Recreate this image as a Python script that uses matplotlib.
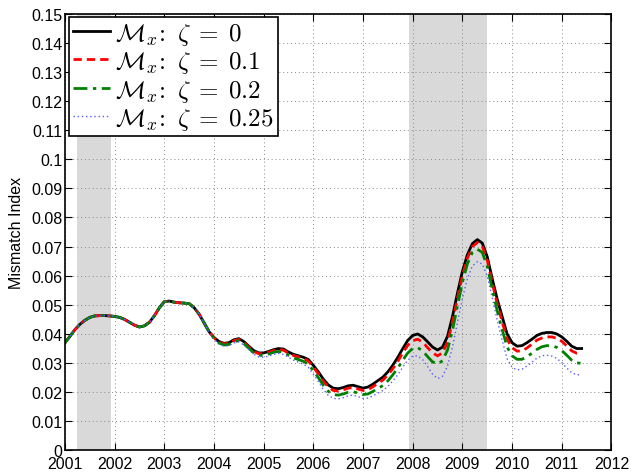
import numpy as np
import matplotlib
matplotlib.use("Agg")
import matplotlib.pyplot as plt
from matplotlib.ticker import FuncFormatter

plt.rcParams['font.family'] = ['Liberation Sans', 'DejaVu Sans']
plt.rcParams['mathtext.fontset'] = 'cm'

# sample dates, every 0.1 year
years = np.round(np.arange(2001.0, 2011.45, 0.1), 2)

# 2001.0 - 2003.9: all four curves coincide
early = [0.0370, 0.0392, 0.0415, 0.0433, 0.0447, 0.0457, 0.0462, 0.0463, 0.0463, 0.0462,
         0.0460, 0.0457, 0.0450, 0.0440, 0.0430, 0.0424, 0.0428, 0.0440, 0.0463, 0.0490,
         0.0511, 0.0513, 0.0509, 0.0507, 0.0506, 0.0504, 0.0490, 0.0468, 0.0438, 0.0408]

zeta_0 = early + [
    0.0388, 0.0374, 0.0368, 0.0370, 0.0380, 0.0384, 0.0374, 0.0358, 0.0343, 0.0335,
    0.0335, 0.0340, 0.0346, 0.0350, 0.0348, 0.0338, 0.0330, 0.0325, 0.0320, 0.0312,
    0.0292, 0.0270, 0.0245, 0.0225, 0.0214, 0.0212, 0.0216, 0.0222, 0.0224, 0.0219,
    0.0214, 0.0218, 0.0228, 0.0240, 0.0252, 0.0270, 0.0293, 0.0320, 0.0350, 0.0378,
    0.0395, 0.0400, 0.0390, 0.0373, 0.0355, 0.0345, 0.0355, 0.0392, 0.0460, 0.0540,
    0.0615, 0.0672, 0.0710, 0.0724, 0.0712, 0.0665, 0.0590, 0.0520, 0.0460, 0.0400,
    0.0370, 0.0358, 0.0360, 0.0370, 0.0382, 0.0395, 0.0402, 0.0405, 0.0405, 0.0400,
    0.0390, 0.0375, 0.0358, 0.0350, 0.0350]

zeta_01 = early + [
    0.0387, 0.0372, 0.0366, 0.0368, 0.0377, 0.0381, 0.0371, 0.0355, 0.0340, 0.0332,
    0.0332, 0.0337, 0.0343, 0.0347, 0.0344, 0.0334, 0.0326, 0.0321, 0.0316, 0.0307,
    0.0286, 0.0263, 0.0238, 0.0218, 0.0206, 0.0204, 0.0208, 0.0214, 0.0216, 0.0211,
    0.0206, 0.0209, 0.0219, 0.0231, 0.0242, 0.0259, 0.0281, 0.0306, 0.0335, 0.0361,
    0.0377, 0.0382, 0.0372, 0.0353, 0.0335, 0.0325, 0.0335, 0.0372, 0.0440, 0.0522,
    0.0600, 0.0660, 0.0700, 0.0714, 0.0702, 0.0653, 0.0576, 0.0504, 0.0442, 0.0382,
    0.0353, 0.0341, 0.0342, 0.0352, 0.0365, 0.0379, 0.0386, 0.0390, 0.0390, 0.0385,
    0.0375, 0.0359, 0.0342, 0.0334, 0.0333]

zeta_02 = early + [
    0.0385, 0.0369, 0.0362, 0.0364, 0.0373, 0.0377, 0.0367, 0.0351, 0.0335, 0.0327,
    0.0326, 0.0331, 0.0337, 0.0340, 0.0337, 0.0327, 0.0318, 0.0312, 0.0306, 0.0296,
    0.0274, 0.0250, 0.0224, 0.0203, 0.0192, 0.0190, 0.0194, 0.0200, 0.0202, 0.0197,
    0.0192, 0.0194, 0.0203, 0.0213, 0.0223, 0.0239, 0.0260, 0.0283, 0.0310, 0.0335,
    0.0350, 0.0353, 0.0342, 0.0322, 0.0304, 0.0297, 0.0308, 0.0345, 0.0413, 0.0496,
    0.0577, 0.0640, 0.0680, 0.0691, 0.0680, 0.0632, 0.0554, 0.0480, 0.0415, 0.0355,
    0.0325, 0.0313, 0.0313, 0.0322, 0.0334, 0.0347, 0.0356, 0.0360, 0.0359, 0.0354,
    0.0343, 0.0327, 0.0310, 0.0301, 0.0299]

zeta_025 = early + [
    0.0382, 0.0366, 0.0358, 0.0360, 0.0369, 0.0373, 0.0362, 0.0346, 0.0330, 0.0321,
    0.0320, 0.0324, 0.0330, 0.0333, 0.0330, 0.0320, 0.0310, 0.0303, 0.0296, 0.0285,
    0.0262, 0.0237, 0.0210, 0.0189, 0.0179, 0.0177, 0.0181, 0.0188, 0.0190, 0.0185,
    0.0179, 0.0180, 0.0188, 0.0197, 0.0206, 0.0220, 0.0239, 0.0260, 0.0286, 0.0310,
    0.0324, 0.0325, 0.0312, 0.0288, 0.0262, 0.0247, 0.0255, 0.0290, 0.0355, 0.0440,
    0.0522, 0.0590, 0.0633, 0.0648, 0.0640, 0.0598, 0.0525, 0.0448, 0.0378, 0.0315,
    0.0285, 0.0277, 0.0279, 0.0290, 0.0303, 0.0317, 0.0325, 0.0327, 0.0324, 0.0316,
    0.0302, 0.0283, 0.0267, 0.0260, 0.0260]

# recession periods (shaded)
recessions = [(2001.25, 2001.92), (2007.93, 2009.5)]

fig = plt.figure(figsize=(6.31, 4.77), dpi=100)
ax = fig.add_axes([0.103, 0.0535, 0.866, 0.916])

for start, end in recessions:
    ax.axvspan(start, end, color='#d9d9d9', lw=0, zorder=0.2)

ax.plot(years, zeta_0, color='black', lw=2, ls='-',
        label=r'$\mathcal{M}_x\!:\ \zeta\;=\;0$')
ax.plot(years, zeta_01, color='red', lw=2, ls=(0, (3, 1.8)),
        label=r'$\mathcal{M}_x\!:\ \zeta\;=\;0.1$')
ax.plot(years, zeta_02, color='green', lw=2, ls=(0, (5, 2, 1.2, 2)),
        label=r'$\mathcal{M}_x\!:\ \zeta\;=\;0.2$')
ax.plot(years, zeta_025, color='#5a5aff', lw=1, ls=(0, (1, 2)),
        label=r'$\mathcal{M}_x\!:\ \zeta\;=\;0.25$')

ax.set_xlim(2001, 2012)
ax.set_ylim(0, 0.15)
ax.set_xticks(range(2001, 2013))
ax.set_yticks(np.round(np.arange(0, 0.151, 0.01), 2))
ax.yaxis.set_major_formatter(FuncFormatter(lambda v, p: f'{v:.2f}'.rstrip('0').rstrip('.') if v else '0'))
ax.tick_params(direction='in', length=5, width=0.8, top=True, right=True, labelsize=11.5, pad=2)
ax.tick_params(axis='x', pad=4)
ax.grid(True, ls=(0, (1, 3)), color='#888888', lw=0.7)
for s in ax.spines.values():
    s.set_linewidth(1.2)
ax.set_ylabel('Mismatch Index', fontsize=11.5, labelpad=5)

leg = ax.legend(loc='upper left', bbox_to_anchor=(0.0075, 0.9925), borderaxespad=0,
                fontsize=18, handlelength=1.5, handletextpad=0.2, labelspacing=0.1,
                borderpad=0.15, fancybox=False, framealpha=1)
leg.get_frame().set_edgecolor('black')
leg.get_frame().set_linewidth(1.2)

fig.savefig('out.png', dpi=100)
